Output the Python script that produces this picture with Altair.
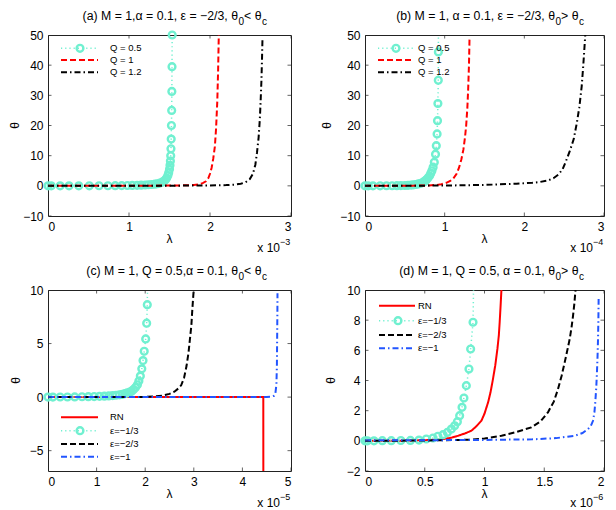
import altair as alt
import pandas as pd

FONT = "Liberation Sans"
CYAN = "#70F0D0"
RED = "#FF0000"
BLACK = "#000000"
BLUE = "#2255FF"

DASHED = [6, 3]
DASHDOT = [6, 3, 1.5, 3]
DOTTED = [1.2, 3]

# ---------------- panel (a): lambda in units of 1e-3 ----------------
a_q05_x = [0, 0.04, 0.15, 0.26, 0.38, 0.51, 0.63, 0.74, 0.83, 0.91, 0.98, 1.04, 1.10, 1.15,
           1.20, 1.24, 1.28, 1.32, 1.35, 1.38, 1.41, 1.43, 1.45, 1.465, 1.48, 1.49, 1.50,
           1.506, 1.511, 1.515, 1.518, 1.521, 1.524, 1.527, 1.529, 1.531, 1.533]
a_q05_y = [0, 0, 0, 0, 0, 0.01, 0.02, 0.03, 0.05, 0.07, 0.1, 0.13, 0.17, 0.22, 0.28, 0.35,
           0.44, 0.55, 0.7, 0.9, 1.2, 1.5, 2.0, 2.6, 3.4, 4.3, 5.5, 6.8, 8.2, 10.0, 12.3,
           15.5, 20.0, 25.0, 31.3, 39.5, 50.0]
a_q05_end = [1.536, 62.0]
a_q1_x = [0, 0.5, 1.0, 1.4, 1.6, 1.72, 1.8, 1.86, 1.91, 1.95, 1.98, 2.0, 2.02, 2.04, 2.06,
          2.075, 2.09, 2.1, 2.11]
a_q1_y = [0, 0.01, 0.03, 0.07, 0.13, 0.2, 0.3, 0.5, 0.9, 1.5, 2.6, 4, 6, 9, 13, 19, 28, 38, 52]
a_q12_x = [0, 0.5, 1.0, 1.5, 1.8, 2.0, 2.2, 2.3, 2.38, 2.44, 2.49, 2.53, 2.56, 2.58, 2.6,
           2.615, 2.625, 2.635, 2.642, 2.648]
a_q12_y = [0, 0, 0.02, 0.05, 0.09, 0.14, 0.25, 0.4, 0.7, 1.2, 2.2, 4, 7, 11, 16, 22, 28, 35,
           42, 49]

# ---------------- panel (b): lambda in units of 1e-4 ----------------
b_q05_x = [0, 0.04, 0.1, 0.19, 0.27, 0.34, 0.40, 0.45, 0.50, 0.54, 0.58, 0.61, 0.64, 0.67,
           0.70, 0.73, 0.75, 0.77, 0.79, 0.81, 0.825, 0.84, 0.855, 0.87, 0.885, 0.895, 0.905,
           0.91, 0.915, 0.92, 0.921]
b_q05_y = [0, 0, 0, 0.01, 0.02, 0.03, 0.05, 0.08, 0.12, 0.17, 0.24, 0.32, 0.45, 0.62, 0.85,
           1.2, 1.55, 2.0, 2.6, 3.3, 4.1, 5.0, 6.2, 7.8, 10.5, 13.3, 17.2, 21.6, 27.3, 35.0,
           44.4]
b_q05_end = [0.923, 62.0]
b_q1_x = [0, 0.3, 0.6, 0.8, 0.9, 0.96, 1.02, 1.07, 1.11, 1.15, 1.18, 1.21, 1.235, 1.255,
          1.27, 1.285, 1.295, 1.305, 1.312]
b_q1_y = [0, 0.01, 0.05, 0.15, 0.3, 0.55, 1.0, 1.6, 2.5, 4, 6, 8.8, 12, 16, 20, 26, 32, 40, 49]
b_q12_x = [0, 0.5, 1.0, 1.5, 1.9, 2.1, 2.2, 2.3, 2.37, 2.43, 2.48, 2.52, 2.57, 2.62, 2.66,
           2.69, 2.72, 2.74, 2.755, 2.77]
b_q12_y = [0, 0.03, 0.1, 0.3, 0.7, 1.0, 1.3, 1.8, 2.6, 3.8, 5.5, 8, 11.5, 15.5, 21, 26, 33,
           40, 46, 52]

# ---------------- panel (c): lambda in units of 1e-5 ----------------
c_rn_x = [0, 4.43, 4.431]
c_rn_y = [0, 0, -9]
c_e13_x = [0, 0.1, 0.25, 0.4, 0.55, 0.7, 0.83, 0.95, 1.06, 1.16, 1.25, 1.33, 1.40, 1.47,
           1.53, 1.58, 1.63, 1.68, 1.72, 1.76, 1.80, 1.84, 1.87, 1.90, 1.93, 1.955, 1.98,
           2.01, 2.03, 2.043]
c_e13_y = [0, 0, 0.01, 0.01, 0.02, 0.03, 0.04, 0.05, 0.07, 0.09, 0.11, 0.14, 0.17, 0.21,
           0.26, 0.32, 0.39, 0.46, 0.55, 0.7, 0.9, 1.15, 1.5, 1.96, 2.64, 3.41, 4.28, 5.43,
           6.9, 8.63]
c_e13_end = [2.05, 11.0]
c_e23_x = [0, 1, 2, 2.2, 2.37, 2.5, 2.6, 2.68, 2.74, 2.8, 2.85, 2.89, 2.92, 2.95, 2.97,
           2.99, 3.01]
c_e23_y = [0, 0, 0.02, 0.07, 0.15, 0.3, 0.5, 0.8, 1.1, 1.8, 2.9, 4.1, 5.4, 6.7, 8.2, 9.5,
           10.8]
c_e1_x = [0, 1, 2, 3, 4, 4.5, 4.6, 4.65, 4.68, 4.70, 4.71, 4.715, 4.72, 4.722]
c_e1_y = [0, 0, 0, 0, 0.01, 0.02, 0.05, 0.12, 0.4, 1.2, 3, 5.5, 8, 9.7]

# ---------------- panel (d): lambda in units of 1e-6 ----------------
d_rn_x = [0, 0.3, 0.5, 0.64, 0.72, 0.78, 0.84, 0.89, 0.93, 0.974, 1.0, 1.03, 1.05, 1.071,
          1.09, 1.108, 1.12, 1.127, 1.135, 1.142]
d_rn_y = [0, 0.01, 0.04, 0.1, 0.2, 0.34, 0.5, 0.67, 0.95, 1.33, 1.8, 2.55, 3.2, 4.1, 5.0,
          6.09, 7.0, 7.86, 9.0, 10.07]
d_e13_x = [0.0, 0.02, 0.075, 0.145, 0.22, 0.30, 0.38, 0.452, 0.513, 0.569, 0.61, 0.653,
           0.689, 0.723, 0.750, 0.773, 0.792, 0.812, 0.828, 0.848, 0.870, 0.884, 0.904]
d_e13_y = [0, 0, 0, 0.01, 0.01, 0.02, 0.03, 0.05, 0.12, 0.19, 0.3, 0.41, 0.56, 0.78, 1.0,
           1.27, 1.67, 2.22, 2.84, 3.66, 4.76, 6.09, 7.86]
d_e13_end = [0.91, 11.0]
d_e23_x = [0, 0.5, 0.862, 1.0, 1.142, 1.25, 1.392, 1.47, 1.531, 1.58, 1.615, 1.645, 1.671,
           1.693, 1.713, 1.728, 1.741, 1.752, 1.760, 1.765]
d_e23_y = [0, 0.02, 0.07, 0.15, 0.34, 0.55, 0.89, 1.3, 1.89, 2.6, 3.43, 4.3, 5.2, 6.0, 6.75,
           7.5, 8.3, 9.1, 9.85, 10.3]
d_e1_x = [0, 0.5, 1.0, 1.4, 1.6, 1.755, 1.82, 1.866, 1.89, 1.908, 1.92, 1.927, 1.935, 1.941,
          1.946, 1.95, 1.953, 1.955]
d_e1_y = [0.03, 0.04, 0.06, 0.1, 0.18, 0.34, 0.52, 0.78, 1.0, 1.33, 1.9, 2.55, 3.5, 4.54,
          5.6, 6.75, 8.0, 9.4]

# ---------------- labels ----------------
a_title = ["(a) M = 1,α = 0.1, ε = −2/3, θ", "0", "< θ", "c"]
b_title = ["(b) M = 1, α = 0.1, ε = −2/3, θ", "0", "> θ", "c"]
c_title = ["(c) M = 1, Q = 0.5,α = 0.1, θ", "0", "< θ", "c"]
d_title = ["(d) M = 1, Q = 0.5, α = 0.1, θ", "0", "> θ", "c"]
q_labels = ["Q = 0.5", "Q = 1", "Q = 1.2"]
e_labels = ["RN", "ε=−1/3", "ε=−2/3", "ε=−1"]
x_title, y_title = "λ", "θ"

a_xticks, a_yticks = [0, 1, 2, 3], [-10, 0, 10, 20, 30, 40, 50]
b_xticks, b_yticks = [0, 1, 2, 3], [-10, 0, 10, 20, 30, 40, 50]
c_xticks, c_yticks = [0, 1, 2, 3, 4, 5], [-5, 0, 5, 10]
d_xticks, d_yticks = [0, 0.5, 1, 1.5, 2], [-2, 0, 2, 4, 6, 8, 10]


def frame(x, y):
    return pd.DataFrame({"x": x, "y": y, "i": list(range(len(x)))})


def text_layer(txt, xx, yy, align="center", baseline="alphabetic", size=12, angle=0):
    kw = dict(align=align, baseline=baseline, font=FONT, fontSize=size, color="black")
    if angle:
        kw["angle"] = angle
    return alt.Chart(pd.DataFrame({"t": [txt]})).mark_text(**kw).encode(
        x=alt.value(xx), y=alt.value(yy), text="t:N")


def panel(W, H, xdom, ydom, xticks, yticks, series, legend, title, exponent, ytoff):
    xs = alt.Scale(domain=xdom, nice=False, zero=False)
    ys = alt.Scale(domain=ydom, nice=False, zero=False)
    xax = alt.Axis(values=xticks, format=".2~f", title=None)
    yax = alt.Axis(values=yticks, format=".2~f", title=None)
    X = alt.X("x:Q", scale=xs, axis=xax)
    Y = alt.Y("y:Q", scale=ys, axis=yax)
    layers = []
    for s in series:
        lx, ly = list(s["x"]), list(s["y"])
        if s.get("end"):
            lx = lx + [s["end"][0]]
            ly = ly + [s["end"][1]]
        layers.append(
            alt.Chart(frame(lx, ly)).mark_line(
                clip=True, color=s["color"], strokeWidth=s.get("sw", 2),
                strokeDash=s["dash"] if s["dash"] else [1, 0],
            ).encode(x=X, y=Y, order="i:Q")
        )
        if s.get("circles"):
            layers.append(
                alt.Chart(frame(s["x"], s["y"])).mark_point(
                    shape="circle", filled=False, size=46, strokeWidth=2.4,
                    color=CYAN, opacity=1,
                ).encode(x=X, y=Y)
            )
    # inward ticks on all four sides
    tx = pd.DataFrame({"x": xticks})
    ty = pd.DataFrame({"y": yticks})
    for yy in (0, H):
        layers.append(alt.Chart(tx).mark_tick(orient="vertical", size=7, thickness=1,
                                             clip=True, color="#222")
                      .encode(x=X, y=alt.value(yy)))
    for xx in (0, W):
        layers.append(alt.Chart(ty).mark_tick(orient="horizontal", size=7, thickness=1,
                                             clip=True, color="#222")
                      .encode(y=Y, x=alt.value(xx)))
    # legend
    x1, x2, cx, txx, rows = legend["x1"], legend["x2"], legend["cx"], legend["tx"], legend["rows"]
    one = pd.DataFrame({"k": [0]})
    for s, ry, lab in zip(legend["series"], rows, legend["labels"]):
        layers.append(alt.Chart(one).mark_rule(
            color=s["color"], strokeWidth=s.get("sw", 2),
            strokeDash=s["dash"] if s["dash"] else [1, 0],
        ).encode(x=alt.value(x1), x2=alt.value(x2), y=alt.value(ry)))
        if s.get("circles"):
            layers.append(alt.Chart(one).mark_point(
                shape="circle", filled=False, size=46, strokeWidth=2.4, color=CYAN, opacity=1
            ).encode(x=alt.value(cx), y=alt.value(ry)))
        layers.append(text_layer(lab, txx, ry, align="left", baseline="middle", size=9.5))
    # title with subscripts
    t1, s1, t2, s2 = title
    layers.append(text_layer(t1, 190, -15.5, align="right", size=12.3))
    layers.append(text_layer(s1, 190.5, -10.5, align="left", size=10))
    layers.append(text_layer(t2, 213.5, -15.5, align="right", size=12.3))
    layers.append(text_layer(s2, 214, -10.5, align="left", size=10))
    # axis titles
    layers.append(text_layer(x_title, W / 2, H + 23, baseline="middle"))
    layers.append(text_layer(y_title, -ytoff, H / 2, baseline="middle", angle=270))
    # axis multiplier  x 10^n
    layers.append(text_layer("x 10", W - 11, H + 36, align="right"))
    layers.append(text_layer(exponent, W - 11, H + 29, align="left", size=9))
    return alt.layer(*layers).properties(width=W, height=H)


sA = [dict(x=a_q05_x, y=a_q05_y, end=a_q05_end, color=CYAN, dash=DOTTED, sw=1.5, circles=True),
      dict(x=a_q1_x, y=a_q1_y, color=RED, dash=DASHED),
      dict(x=a_q12_x, y=a_q12_y, color=BLACK, dash=DASHDOT)]
sB = [dict(x=b_q05_x, y=b_q05_y, end=b_q05_end, color=CYAN, dash=DOTTED, sw=1.5, circles=True),
      dict(x=b_q1_x, y=b_q1_y, color=RED, dash=DASHED),
      dict(x=b_q12_x, y=b_q12_y, color=BLACK, dash=DASHDOT)]
sC = [dict(x=c_rn_x, y=c_rn_y, color=RED, dash=None),
      dict(x=c_e13_x, y=c_e13_y, end=c_e13_end, color=CYAN, dash=DOTTED, sw=1.5, circles=True),
      dict(x=c_e23_x, y=c_e23_y, color=BLACK, dash=DASHED),
      dict(x=c_e1_x, y=c_e1_y, color=BLUE, dash=DASHDOT)]
sD = [dict(x=d_rn_x, y=d_rn_y, color=RED, dash=None),
      dict(x=d_e13_x, y=d_e13_y, end=d_e13_end, color=CYAN, dash=DOTTED, sw=1.5, circles=True),
      dict(x=d_e23_x, y=d_e23_y, color=BLACK, dash=DASHED),
      dict(x=d_e1_x, y=d_e1_y, color=BLUE, dash=DASHDOT)]

pa = panel(243, 181, [0, 3], [-10, 50], a_xticks, a_yticks, sA,
           dict(x1=13, x2=50, cx=32, tx=62, rows=[13.3, 25, 37.3], series=sA, labels=q_labels),
           a_title, "−3", 33)
pb = panel(239, 181, [0, 3], [-10, 50], b_xticks, b_yticks, sB,
           dict(x1=13, x2=49, cx=31, tx=53, rows=[13.3, 25, 37.3], series=sB, labels=q_labels),
           b_title, "−4", 38.5)
pc = panel(243, 181, [0, 5], [-6.9, 10], c_xticks, c_yticks, sC,
           dict(x1=13, x2=50, cx=32, tx=62, rows=[127.3, 140.7, 154, 166.7], series=sC,
                labels=e_labels),
           c_title, "−5", 32)
pd_ = panel(239, 181, [0, 2], [-2, 10], d_xticks, d_yticks, sD,
            dict(x1=14, x2=50, cx=33, tx=53, rows=[15.7, 30.7, 45, 58.3], series=sD,
                 labels=e_labels),
            d_title, "−6", 34)

chart = alt.concat(pa, pb, pc, pd_, columns=2, spacing=74, bounds="flush").properties(
    padding={"left": 0, "top": 1, "right": 0, "bottom": 0}
).configure_view(stroke="#222", strokeWidth=1).configure_axis(
    labelFont=FONT, labelFontSize=12, labelColor="black", labelPadding=5,
    ticks=False, domain=False, grid=False,
).configure_axisX(labelPadding=5)

chart.save("out.html", embed_options={"renderer": "svg", "actions": False})
